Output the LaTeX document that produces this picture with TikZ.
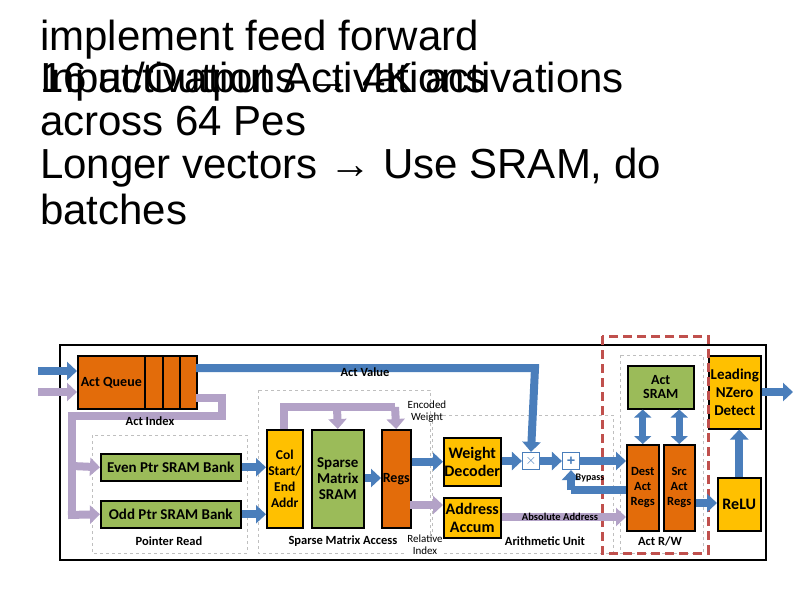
\documentclass[tikz,border=0pt]{standalone}
\usepackage{fontspec}
\setmainfont{Liberation Sans}
\newfontfamily\calfont{Carlito}
\usetikzlibrary{arrows.meta}
\definecolor{bl}{HTML}{4A7EBB}
\definecolor{lv}{HTML}{B3A2C7}
\definecolor{org}{HTML}{E36C0A}
\definecolor{yel}{HTML}{FFC000}
\definecolor{grn}{HTML}{9BBB59}
\definecolor{rd}{HTML}{C0504D}
\begin{document}
\begin{tikzpicture}[x=1pt,y=-1pt,
  title/.style={anchor=base west,font=\fontsize{42}{42}\selectfont,inner sep=0},
  blk/.style={draw=black,line width=1.5pt,inner sep=0,align=center,font=\calfont\bfseries\fontsize{14}{14}\selectfont},
  ob/.style={blk,fill=org},yb/.style={blk,fill=yel},gb/.style={blk,fill=grn},
  grp/.style={draw=gray!50,dashed,line width=1pt},
  lab/.style={font=\calfont\bfseries\fontsize{12.5}{12.5}\selectfont,inner sep=1pt},
  sl/.style={font=\calfont\fontsize{11}{12}\selectfont,align=center,inner sep=0},
  ba/.style={bl,line width=8pt,-{Triangle[length=10pt,width=18pt]}},
  la/.style={lv,line width=8pt,-{Triangle[length=10pt,width=18pt]}},
  bp/.style={bl,line width=8pt},lp/.style={lv,line width=8pt}]
\useasboundingbox (0,0) rectangle (794,595);
\node[title] (t1) at (40,50) {implement feed forward};
\node[title] (t2) at (40,92) {16 activations → 4K activations};
\node[title] (t3) at (40,92) {Input/Output Activations};
\node[title] (t4) at (40,135) {across 64 Pes};
\node[title] (t5) at (40,178) {Longer vectors → Use SRAM, do};
\node[title] (t6) at (40,224) {batches};
% frame
\draw[line width=1.2pt] (60,345) rectangle (766,560);
\draw[grp] (92,435) rectangle (247,553);
\draw[grp] (258,390) rectangle (430,553);
\draw[grp] (432,415) rectangle (613,553);
\draw[grp] (620,355) rectangle (703,553);
\node[lab] (lpr) at (169,541) {Pointer Read};
\node[lab] (lsm) at (343,541) {Sparse Matrix Access};
\node[lab] (lau) at (545,541) {Arithmetic Unit};
\node[lab] (law) at (660,541) {Act R/W};
% blocks
\node[ob,minimum width=119,minimum height=53,anchor=north west] (aq) at (77,355) {};
\node[blk,draw=none,anchor=west] (aqt) at (80,383) {Act Queue};
\draw[line width=1.2pt] (145,355)--(145,408) (163,355)--(163,408) (180,355)--(180,408);
\node[gb,minimum width=140,minimum height=27,anchor=north west,font=\calfont\bfseries\fontsize{15}{15}\selectfont] (even) at (100,453) {Even Ptr SRAM Bank};
\node[gb,minimum width=140,minimum height=27,anchor=north west,font=\calfont\bfseries\fontsize{15}{15}\selectfont] (odd) at (100,500) {Odd Ptr SRAM Bank};
\node[yb,minimum width=36,minimum height=98,anchor=north west,font=\calfont\bfseries\fontsize{13.5}{16}\selectfont] (col) at (266,429) {Col\\Start/\\End\\Addr};
\node[gb,minimum width=52,minimum height=98,anchor=north west,font=\calfont\bfseries\fontsize{15}{16}\selectfont] (sp) at (311,429) {Sparse\\Matrix\\SRAM};
\node[ob,minimum width=29,minimum height=98,anchor=north west] (regs) at (381,429) {Regs};
\node[yb,minimum width=57,minimum height=48,anchor=north west,font=\calfont\bfseries\fontsize{16}{18}\selectfont] (wd) at (443,437) {Weight\\Decoder};
\node[yb,minimum width=57,minimum height=40,anchor=north west,font=\calfont\bfseries\fontsize{16}{18}\selectfont] (aa) at (443,497) {Address\\Accum};
\node[draw=bl,line width=1.2pt,minimum size=17,inner sep=0,text=bl,font=\bfseries\Large] (mul) at (531,461) {$\times$};
\node[draw=bl,line width=1.2pt,minimum size=17,inner sep=0,text=bl,font=\bfseries\Large] (add) at (571,461) {+};
\node[gb,minimum width=66,minimum height=43,anchor=north west] (asr) at (627,365) {Act\\SRAM};
\node[ob,minimum width=32,minimum height=86,anchor=north west,font=\calfont\bfseries\fontsize{12.5}{15}\selectfont] (dest) at (626,444) {Dest\\Act\\Regs};
\node[ob,minimum width=31,minimum height=86,anchor=north west,font=\calfont\bfseries\fontsize{12.5}{15}\selectfont] (src) at (663,444) {Src\\Act\\Regs};
\node[yb,minimum width=52,minimum height=73,anchor=north west,font=\calfont\bfseries\fontsize{15}{18}\selectfont] (lnz) at (708,355) {Leading\\NZero\\Detect};
\node[yb,minimum width=43,minimum height=53,anchor=north west,font=\calfont\bfseries\fontsize{16}{16}\selectfont] (relu) at (717,477) {ReLU};
\draw[rd,line width=3pt,dash pattern=on 9pt off 5pt] (602,336) rectangle (708,553);
% arrows
\coordinate (in1) at (38,371); \coordinate (in2) at (38,392);
\draw[ba] (in1) -- (aq.west |- in1);
\draw[la] (in2) -- (aq.west |- in2);
\draw[ba] (196,368) -- (535,368) -- (mul.north);
\node[lab] (lav) at (365,372) {Act Value};
\draw[lp] (196,398) -- (222,398) -- (222,416) -- (72,416) -- (72,515);
\draw[la] (72,466) -- (even.west);
\draw[la] (68,515) -- (odd.west);
\node[lab] (lai) at (150,421) {Act Index};
\draw[ba] (even.east) -- (col.west |- even.east);
\draw[ba] (odd.east) -- (col.west |- odd.east);
\draw[lp] (284,429) -- (284,407) -- (395,407);
\draw[la] (395,407) -- (regs.north);
\draw[la] (337,407) -- (sp.north);
\draw[ba] (sp.east |- 478,478) -- (regs.west |- 478,478);
\draw[ba] (regs.east |- wd.west) -- (wd.west);
\draw[la] (410,505) -- (aa.west |- 410,505);
\node[sl] (lew) at (427,412) {Encoded\\Weight};
\node[sl,fill=white] (lri) at (425,545) {Relative\\Index};
\draw[ba] (wd.east |- mul.west) -- (mul.west);
\draw[ba] (mul.east) -- (add.west);
\draw[ba] (add.east) -- (dest.west |- add.east);
\draw[bp] (dest.west |- 490,490) -- (571,490);
\draw[ba] (571,490) -- (add.south);
\node[sl,font=\calfont\bfseries\fontsize{10}{10}\selectfont] (lby) at (590,478) {Bypass};
\draw[la] (aa.east |- 500,517) -- (dest.west |- 500,517);
\node[sl,font=\calfont\bfseries\fontsize{10.5}{10}\selectfont] (lab2) at (560,517) {Absolute Address};
\draw[bl,line width=7pt,{Triangle[length=8pt,width=17pt]}-{Triangle[length=8pt,width=17pt]}] (asr.south -| dest) -- (dest.north);
\draw[bl,line width=7pt,{Triangle[length=8pt,width=17pt]}-{Triangle[length=8pt,width=17pt]}] (asr.south -| src) -- (src.north);
\draw[ba] (src.east |- 503,503) -- (relu.west |- 503,503);
\draw[ba] (relu.north) -- (relu.north |- lnz.south);
\coordinate (out) at (793,392);
\draw[ba] (lnz.east |- out) -- (out);
\end{tikzpicture}
\end{document}
